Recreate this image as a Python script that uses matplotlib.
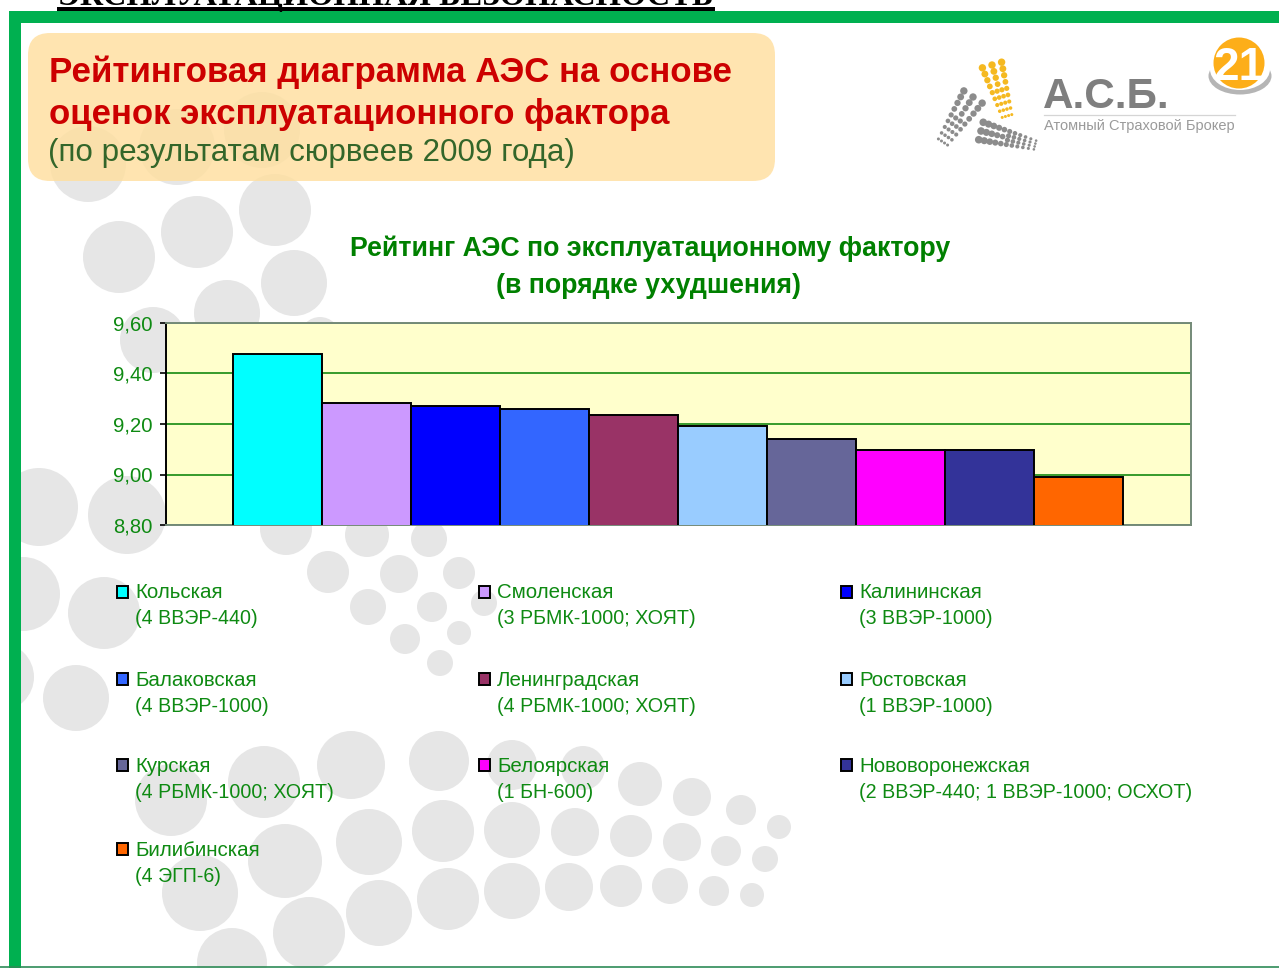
import numpy as np
import matplotlib
matplotlib.use("Agg")
import matplotlib.pyplot as plt
from matplotlib.patches import Circle, Ellipse, FancyBboxPatch, Rectangle

plt.rcParams['font.family'] = ['Liberation Sans', 'DejaVu Sans']

# ---- data ----
names = ["Кольская", "Смоленская", "Калининская", "Балаковская", "Ленинградская",
         "Ростовская", "Курская", "Белоярская", "Нововоронежская", "Билибинская"]
reactors = ["(4 ВВЭР-440)", "(3 РБМК-1000; ХОЯТ)", "(3 ВВЭР-1000)", "(4 ВВЭР-1000)",
            "(4 РБМК-1000; ХОЯТ)", "(1 ВВЭР-1000)", "(4 РБМК-1000; ХОЯТ)", "(1 БН-600)",
            "(2 ВВЭР-440; 1 ВВЭР-1000; ОСХОТ)", "(4 ЭГП-6)"]
values = [9.477, 9.282, 9.273, 9.26, 9.236, 9.192, 9.14, 9.097, 9.097, 8.99]
colors = ["#00FFFF", "#CC99FF", "#0000FF", "#3366FF", "#993366",
          "#99CCFF", "#666699", "#FF00FF", "#333399", "#FF6600"]
yticks = [8.8, 9.0, 9.2, 9.4, 9.6]
yticklabels = ["8,80", "9,00", "9,20", "9,40", "9,60"]

W, H = 1279, 968
GREEN = "#00B050"
TXT = "#0E8A12"

# decorative background discs: x, y, r in pixels
discs = [(88,164,38),(177,147,38),(262,130,38),(197,232,36),(275,210,36),(119,257,36),
         (294,283,33),(227,313,33),(153,340,33),(320,337,20),
         (39,507,39),(127,515,39),(23,594,37),(104,613,36),(0,677,34),(76,698,33),
         (286,529,26),(367,535,22),(429,539,18),(328,572,21),(399,574,19),(459,573,16),
         (368,607,18),(432,607,15),(484,603,13),(405,639,15),(459,633,12),(440,663,13),
         (264,782,36),(351,765,34),(439,761,30),(512,765,25),(583,768,22),(640,784,22),
         (692,797,19),(741,810,15),(779,827,12),(171,800,36),
         (369,842,33),(443,831,31),(512,830,28),(575,832,24),(631,836,21),(682,842,19),
         (726,851,15),(765,859,13),(285,861,37),(200,893,38),
         (379,913,33),(448,899,31),(512,891,28),(569,887,24),(621,886,21),(670,886,18),
         (714,891,15),(752,895,12),(309,933,36),(232,963,35)]

fig = plt.figure(figsize=(W/100, H/100), dpi=100, facecolor="white")
bg = fig.add_axes([0, 0, 1, 1], zorder=0)
bg.set_xlim(0, W); bg.set_ylim(H, 0); bg.axis("off")

for x, y, r in discs:
    bg.add_patch(Circle((x, y), r, fc="#E6E6E6", ec="none", zorder=1))

# frame
bg.add_patch(Rectangle((0, 0), 9, H, fc="white", ec="none", zorder=2))
bg.add_patch(Rectangle((9, 11), 12, H-11, fc=GREEN, ec="none", zorder=3))
bg.add_patch(Rectangle((9, 11), W-9, 12, fc=GREEN, ec="none", zorder=3))
bg.plot([0, W], [967.3, 967.3], color="#2E8B57", lw=1.2, zorder=3, solid_capstyle="butt")

# clipped heading above the frame
bg.text(386, 5.5, "ЭКСПЛУАТАЦИОННАЯ БЕЗОПАСНОСТЬ", family="Liberation Serif", weight="bold",
        fontsize=23.4, color="black", ha="center", va="baseline", zorder=4)
bg.add_patch(Rectangle((57, 7), 658, 4, fc="black", ec="none", zorder=4))

# header box
bg.add_patch(FancyBboxPatch((28, 33), 747, 148, boxstyle="round,pad=0,rounding_size=22",
                            fc="#FFDF9F", ec="none", alpha=0.82, zorder=5))
bg.text(49, 82, "Рейтинговая диаграмма АЭС на основе", fontsize=25.08, weight="bold",
        color="#CC0000", va="baseline", zorder=6)
bg.text(49, 124, "оценок эксплуатационного фактора", fontsize=25.03, weight="bold",
        color="#CC0000", va="baseline", zorder=6)
bg.text(48, 161, "(по результатам сюрвеев 2009 года)", fontsize=22.6,
        color="#33662A", va="baseline", zorder=6)


def dot_band(p0, p1, w0, w1, n_rows, n0, n1, s0, s1, col):
    """Tapered band of dots for the logo (decoration)."""
    p0, p1 = np.array(p0, float), np.array(p1, float)
    d = (p1 - p0) / np.linalg.norm(p1 - p0)
    nrm = np.array([-d[1], d[0]])
    for i in range(n_rows):
        t = i / (n_rows - 1)
        c = p0 + (p1 - p0) * t
        w = w0 + (w1 - w0) * t
        n = int(round(n0 + (n1 - n0) * t))
        for k in np.linspace(-0.5, 0.5, n):
            q = c + nrm * w * k
            bg.add_patch(Circle(q, s0 + (s1 - s0) * t, fc=col, ec="none", zorder=6))


dot_band((992, 65), (1007, 116), 20, 10, 9, 3, 4, 3.7, 1.5, "#F5B921")
dot_band((973, 97), (943, 142), 22, 11, 9, 3, 4, 3.7, 1.5, "#8C8C8C")
dot_band((981, 131), (1035, 145), 18, 9, 11, 3, 4, 3.8, 1.3, "#8C8C8C")
bg.text(1043, 108, "А.С.Б.", fontsize=30.4, weight="bold", color="#7F7F7F", va="baseline", zorder=6)
bg.plot([1044, 1235], [115, 115], color="#D5D5D5", lw=0.9, zorder=6)
bg.text(1044, 130, "Атомный Страховой Брокер", fontsize=10.5, color="#9A9A9A", va="baseline", zorder=6)

# badge
bg.add_patch(Ellipse((1240, 76), 63, 37, fc="#B5B5B5", ec="none", zorder=6))
bg.add_patch(Ellipse((1240, 69), 60, 42, fc="white", ec="none", zorder=6))
bg.add_patch(Circle((1239, 63), 25.5, fc="#FDAE19", ec="none", zorder=6))
bg.text(1239, 80, "21", fontsize=33, weight="bold", color="white", ha="center", va="baseline", zorder=7)

# chart title
bg.text(650, 256, "Рейтинг АЭС по эксплуатационному фактору", fontsize=19.3, weight="bold",
        color="#008000", ha="center", va="baseline", zorder=6)
bg.text(649, 293, "(в порядке ухудшения)", fontsize=19.3, weight="bold",
        color="#008000", ha="center", va="baseline", zorder=6)

# chart
L, R, T, B = 166, 1191, 323, 525
ax = fig.add_axes([L/W, 1-B/H, (R-L)/W, (B-T)/H], zorder=2)
ax.set_facecolor("#FFFFCC")
xs = np.arange(len(values))
ax.bar(xs, values, width=1.0, color=colors, edgecolor="black", linewidth=1.4, zorder=3)
ax.set_xlim(-1.253, 10.264)
ax.set_ylim(8.8, 9.6)
ax.set_yticks(yticks)
ax.set_yticklabels(yticklabels, fontsize=14.6, color=TXT)
ax.set_xticks([])
ax.tick_params(axis="y", length=4.5, width=1.2, color="black", pad=5)
ax.grid(axis="y", color="#008000", lw=1.1, zorder=1)
ax.set_axisbelow(True)
for s in ["top", "right", "bottom"]:
    ax.spines[s].set_color("#748A78")
    ax.spines[s].set_linewidth(1.4)
ax.spines["left"].set_color("black")
ax.spines["left"].set_linewidth(1.4)

# legend
col_x = [116, 478, 840]
row_y = [592, 679, 765, 849]
for i, (n, rt, c) in enumerate(zip(names, reactors, colors)):
    cx = col_x[i % 3]
    ry = row_y[i // 3]
    bg.add_patch(Rectangle((cx+0.5, ry-5.8), 11.5, 11.5, fc=c, ec="black", lw=1.4, zorder=6))
    bg.text(cx+19, ry+6.5, n, fontsize=14.8, color=TXT, va="baseline", zorder=6)
    bg.text(cx+19, ry+32.5, rt, fontsize=14.1, color=TXT, va="baseline", zorder=6)

fig.savefig("out.png", dpi=100, facecolor="white")
